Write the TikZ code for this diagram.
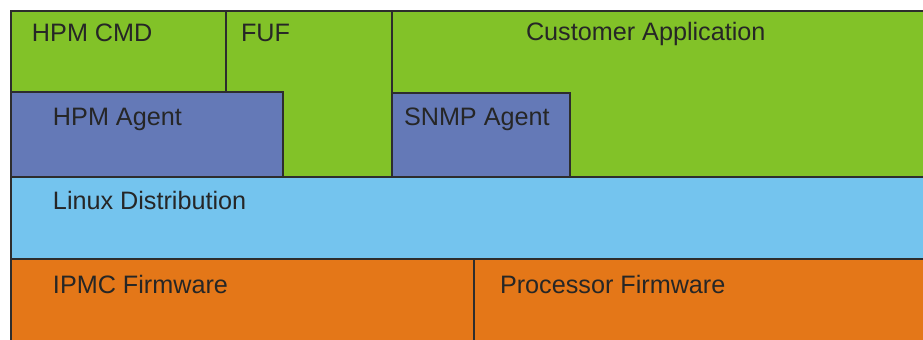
\documentclass[tikz,border=0pt]{standalone}
\usepackage{fontspec}
\setmainfont{Liberation Sans}

\definecolor{appgreen}{RGB}{130,194,40}
\definecolor{agentblue}{RGB}{100,121,183}
\definecolor{linuxblue}{RGB}{116,196,238}
\definecolor{fworange}{RGB}{228,119,24}
\definecolor{edgegray}{RGB}{45,45,45}

\begin{document}
\begin{tikzpicture}[x=0.5pt,y=-0.5pt,line width=1pt,
	layer/.style={draw=edgegray},
	lbl/.style={anchor=base west,inner sep=0pt,text=black!85,font=\fontsize{12.6}{15}\selectfont}]

\useasboundingbox (0,0) rectangle (923,339);
\clip (0,0) rectangle (923,339);
\fill[white] (0,0) rectangle (923,339);

% user space
\filldraw[layer,fill=appgreen] (226,11)--(392,11)--(392,177)--(226,177)--cycle;
\filldraw[layer,fill=appgreen] (392,11)--(940,11)--(940,177)--(392,177)--cycle;
\filldraw[layer,fill=appgreen] (11,11)--(226,11)--(226,92)--(11,92)--cycle;

% agents
\filldraw[layer,fill=agentblue] (11,92)--(283,92)--(283,177)--(11,177)--cycle;
\filldraw[layer,fill=agentblue] (392,93)--(570,93)--(570,177)--(392,177)--cycle;

% operating system
\filldraw[layer,fill=linuxblue] (11,177)--(940,177)--(940,259)--(11,259)--cycle;

% firmware
\filldraw[layer,fill=fworange] (11,259)--(474,259)--(474,350)--(11,350)--cycle;
\filldraw[layer,fill=fworange] (474,259)--(940,259)--(940,350)--(474,350)--cycle;

\node[lbl] (hpmcmd) at (31,41) {HPM CMD};
\node[lbl] (fuf) at (240,41) {FUF};
\node[lbl] (custapp) at (525,40) {Customer Application};
\node[lbl] (hpmagent) at (52,125) {HPM Agent};
\node[lbl] (snmpagent) at (403,125) {SNMP Agent};
\node[lbl] (linux) at (52,209) {Linux Distribution};
\node[lbl] (ipmcfw) at (52,293) {IPMC Firmware};
\node[lbl] (procfw) at (499,293) {Processor Firmware};

\end{tikzpicture}
\end{document}
